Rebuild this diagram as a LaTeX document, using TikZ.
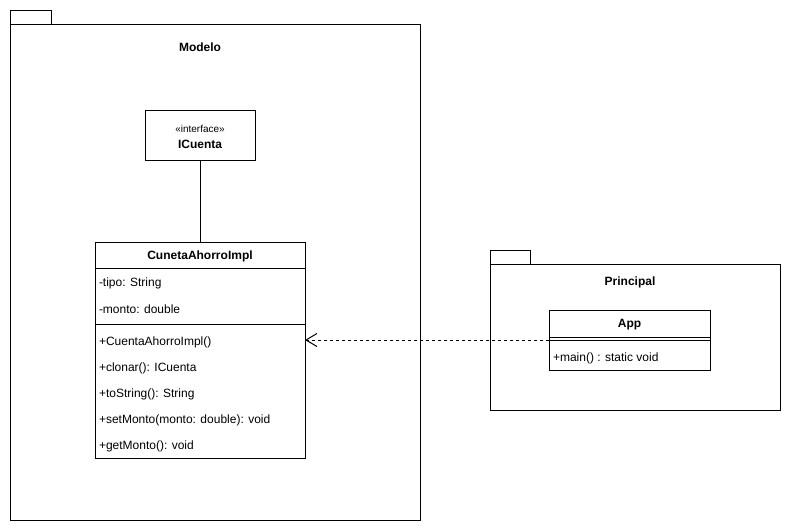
\documentclass[tikz,border=0pt]{standalone}
\usepackage{fontspec}
\setmainfont{Liberation Sans}
\usetikzlibrary{arrows.meta}
\begin{document}
\begin{tikzpicture}[x=1pt,y=-1pt,line width=1pt,
  every node/.style={inner sep=0pt,outer sep=0pt,font=\fontsize{12}{14}\selectfont},
  pkg/.style={draw,fill=white},
  cls/.style={draw,fill=white},
  title/.style={font=\fontsize{12}{14}\selectfont\bfseries},
  member/.style={anchor=west},
  dep/.style={dashed,dash pattern=on 3pt off 3pt,-{Straight Barb[length=11pt,width=13pt,line width=1pt]}}]
\useasboundingbox (0,0) rectangle (791,531);
\fill[white] (0,0) rectangle (791,531);

% package Modelo
\draw[pkg] (10,10) rectangle (51,24);
\draw[pkg] (10,24) rectangle (420,520);
\node[title] (modelo) at (200,47) {Modelo};

% package Principal
\draw[pkg] (490,250) rectangle (530,264);
\draw[pkg] (490,264) rectangle (780,410);
\node[title] (principal) at (630,282) {Principal};

% interface ICuenta
\node[cls,minimum width=110pt,minimum height=50pt] (icuenta) at (200,135) {};
\node (stereo) at (200,129) {\fontsize{10}{12}\selectfont «interface»};
\node[title] (icname) at (200,144) {ICuenta};

% class CunetaAhorroImpl
\node[cls,minimum width=210pt,minimum height=216pt] (cuenta) at (200,350) {};
\draw (95,268) -- (305,268);
\draw (95,324) -- (305,324);
\node[title] (cname) at (200,256) {CunetaAhorroImpl};
\node[member] (a1) at (99,283) {-tipo: String};
\node[member] (a2) at (99,309) {-monto: double};
\node[member] (m1) at (99,342) {+CuentaAhorroImpl()};
\node[member] (m2) at (99,368) {+clonar(): ICuenta};
\node[member] (m3) at (99,394) {+toString(): String};
\node[member] (m4) at (99,420) {+setMonto(monto: double): void};
\node[member] (m5) at (99,446) {+getMonto(): void};

% class App
\node[cls,minimum width=161pt,minimum height=60pt] (app) at (629.5,340.5) {};
\draw (549,337) -- (710,337);
\draw (549,340) -- (710,340);
\node[title] (appname) at (629.5,325) {App};
\node[member] (am1) at (553,358) {+main() : static void};

% relations
\draw (icuenta.south) -- (cuenta.north);
\draw[dep] (app.west |- 0,340) -- (cuenta.east |- 0,340);
\end{tikzpicture}
\end{document}
